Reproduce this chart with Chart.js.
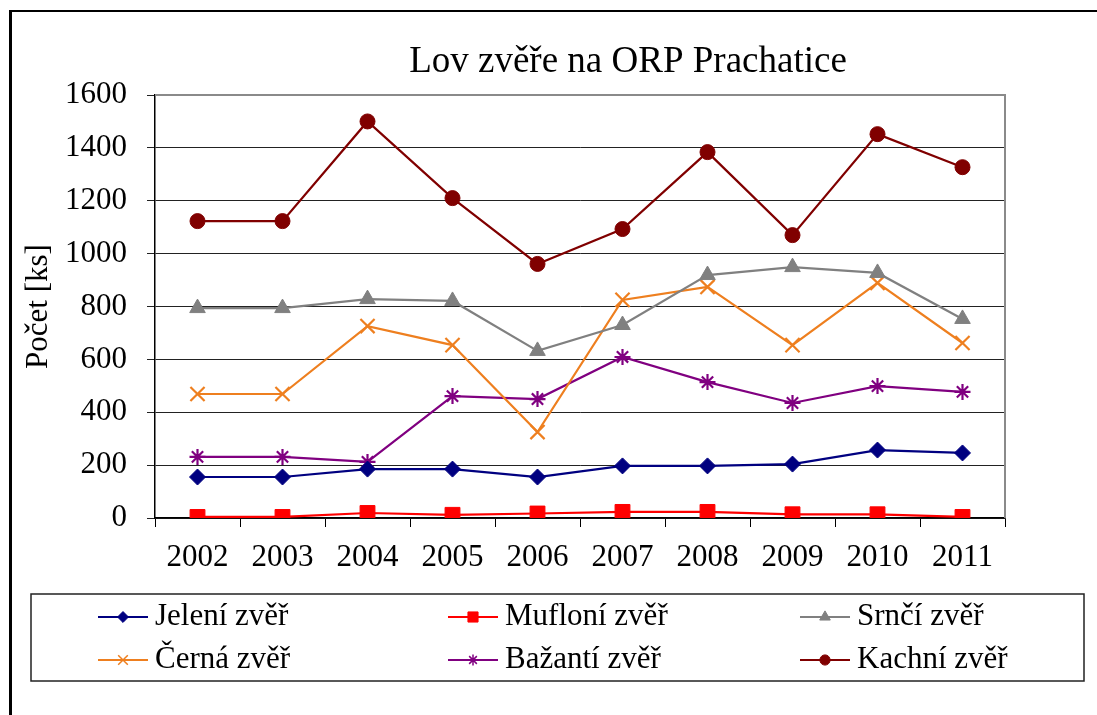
<!DOCTYPE html>
<html>
<head>
<meta charset="utf-8">
<script src="https://cdn.jsdelivr.net/npm/chart.js"></script>
<style>
  body { margin: 0; background: #fff; }
</style>
</head>
<body>
<canvas id="lov" width="1097" height="715"></canvas>
<script>
  // roky a úlovky (ks)
  var roky = ['2002', '2003', '2004', '2005', '2006', '2007', '2008', '2009', '2010', '2011'];
  var jeleni = [155, 155, 185, 185, 155, 197, 197, 204, 257, 246];
  var mufloni = [4, 4, 19, 12, 17, 23, 23, 14, 14, 4];
  var srnci = [794, 794, 828, 821, 632, 730, 919, 949, 927, 753];
  var cerna = [469, 469, 726, 654, 325, 825, 874, 654, 889, 662];
  var bazanti = [231, 231, 212, 461, 450, 609, 514, 435, 499, 477];
  var kachni = [1123, 1123, 1500, 1210, 961, 1093, 1384, 1070, 1452, 1327];
  var yTicks = [0, 200, 400, 600, 800, 1000, 1200, 1400, 1600];

  var serif = "'Liberation Serif', 'Times New Roman', serif";
  Chart.defaults.font.family = serif;
  Chart.defaults.color = '#000';

  function serie(label, data, color, style, r, bw) {
    return {
      label: label, data: data,
      borderColor: color, backgroundColor: color,
      borderWidth: 2.2, pointStyle: style, pointRadius: r,
      pointBorderWidth: bw, pointBorderColor: color, pointBackgroundColor: color,
      tension: 0
    };
  }

  // rámeček stránky, nadpis, šedý okraj plochy
  var ramecek = {
    id: 'ramecek',
    beforeDraw: function (c) {
      var ctx = c.ctx;
      ctx.save();
      ctx.fillStyle = '#fff';
      ctx.fillRect(0, 0, c.width, c.height);
      ctx.fillStyle = '#000';
      ctx.fillRect(9, 10, 3, c.height - 10);
      ctx.fillRect(9, 10, c.width - 9, 2);
      ctx.font = '37px ' + serif;
      ctx.textAlign = 'center';
      ctx.textBaseline = 'alphabetic';
      ctx.fillText('Lov zvěře na ORP Prachatice', 628, 72);
      ctx.restore();
    },
    beforeDatasetsDraw: function (c) {
      var a = c.chartArea, ctx = c.ctx;
      ctx.save();
      ctx.strokeStyle = '#8a8a8a';
      ctx.lineWidth = 2;
      ctx.beginPath();
      ctx.moveTo(a.left, a.top);
      ctx.lineTo(a.right, a.top);
      ctx.lineTo(a.right, a.bottom);
      ctx.stroke();
      ctx.restore();
    }
  };

  // legenda v rámečku, 3 sloupce x 2 řádky
  var legenda = {
    id: 'legenda',
    afterDraw: function (c) {
      var ctx = c.ctx;
      var sx = [98, 448, 800], sy = [617, 660];
      ctx.save();
      ctx.strokeStyle = '#222';
      ctx.lineWidth = 1.5;
      ctx.strokeRect(31, 594, 1053, 87);
      ctx.font = '31px ' + serif;
      ctx.textBaseline = 'middle';
      ctx.textAlign = 'left';
      c.data.datasets.forEach(function (ds, i) {
        var x = sx[i % 3], y = sy[Math.floor(i / 3)];
        ctx.strokeStyle = ds.borderColor;
        ctx.lineWidth = 2.2;
        ctx.beginPath();
        ctx.moveTo(x, y);
        ctx.lineTo(x + 50, y);
        ctx.stroke();
        ctx.fillStyle = ds.backgroundColor;
        ctx.lineWidth = ds.pointBorderWidth > 1 ? 1.5 : 1;
        Chart.helpers.drawPoint(ctx, {
          pointStyle: ds.pointStyle, radius: ds.pointRadius * 0.68,
          rotation: 0, borderWidth: ctx.lineWidth
        }, x + 25, y);
        ctx.fillStyle = '#000';
        ctx.fillText(ds.label, x + 57, y);
      });
      ctx.restore();
    }
  };

  var chart = new Chart(document.getElementById('lov'), {
    type: 'line',
    data: {
      labels: roky,
      datasets: [
        serie('Jelení zvěř', jeleni, '#000080', 'rectRot', 8, 1),
        serie('Mufloní zvěř', mufloni, '#ff0000', 'rect', 10.5, 1),
        serie('Srnčí zvěř', srnci, '#808080', 'triangle', 9, 1),
        serie('Černá zvěř', cerna, '#ee7f1f', 'crossRot', 10, 2.2),
        serie('Bažantí zvěř', bazanti, '#800080', 'star', 8, 2.2),
        serie('Kachní zvěř', kachni, '#800000', 'circle', 7.5, 1)
      ]
    },
    options: {
      responsive: false,
      animation: false,
      layout: { padding: { left: 12, top: 95, right: 92, bottom: 0 } },
      plugins: { legend: { display: false }, title: { display: false }, tooltip: { enabled: false } },
      scales: {
        x: {
          offset: true,
          grid: { offset: true, drawOnChartArea: false, drawTicks: true, tickLength: 9, color: '#000', lineWidth: 1 },
          border: { color: '#000', width: 1.5 },
          ticks: { font: { size: 31 }, padding: 12, color: '#000', maxRotation: 0 },
          afterFit: function (s) { s.height = 197; }
        },
        y: {
          min: 0, max: 1600,
          afterBuildTicks: function (s) { s.ticks = yTicks.map(function (v) { return { value: v }; }); },
          grid: { color: '#222', lineWidth: 1, tickLength: 8 },
          border: { color: '#000', width: 1.5 },
          ticks: { font: { size: 31 }, padding: 20, color: '#000', callback: function (v) { return String(v); } },
          title: { display: true, text: 'Počet [ks]', font: { size: 31 }, color: '#000', padding: { top: 8, bottom: 0 } },
          afterFit: function (s) { s.width = 143; }
        }
      }
    },
    plugins: [ramecek, legenda]
  });
</script>
</body>
</html>
